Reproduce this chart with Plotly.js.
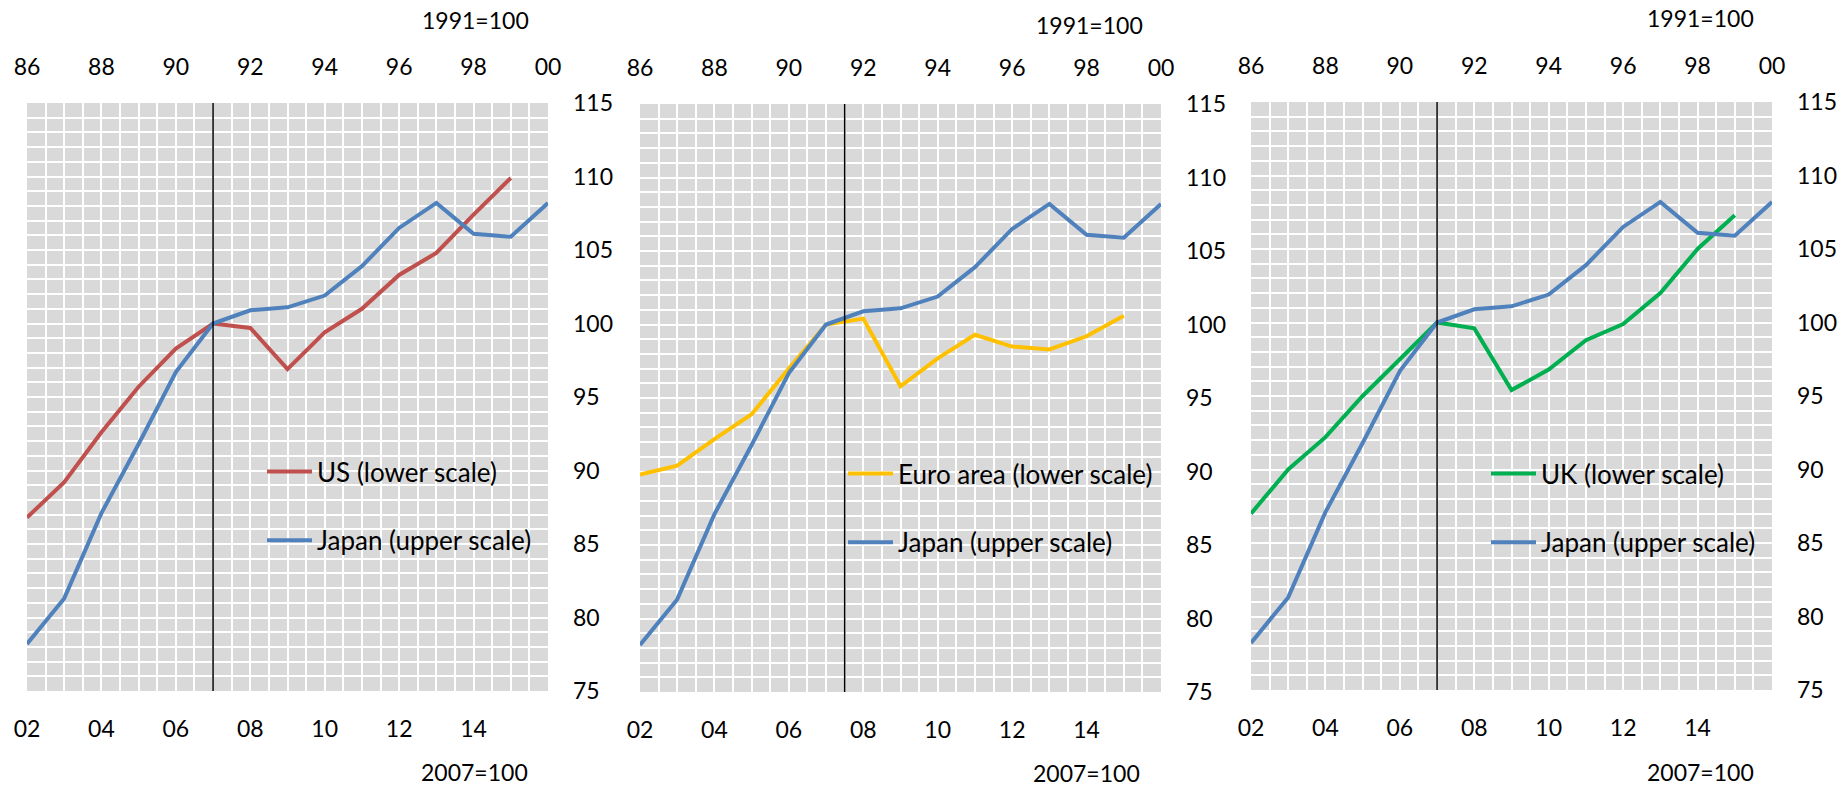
<!DOCTYPE html>
<html><head><meta charset="utf-8">
<script src="https://cdn.plot.ly/plotly-3.0.1.min.js"></script>
<style>html,body{margin:0;padding:0;background:#fff}#chart{width:1842px;height:787px}</style>
</head><body><div id="chart"></div>
<script>
// ---- data ----
const yearsLower = [2002,2003,2004,2005,2006,2007,2008,2009,2010,2011,2012,2013,2014,2015];
const yearsUpper = [1986,1987,1988,1989,1990,1991,1992,1993,1994,1995,1996,1997,1998,1999,2000];
const japan = [78.2,81.3,87.1,91.8,96.7,100.0,100.9,101.1,101.9,103.9,106.5,108.2,106.1,105.9,108.2];
const us    = [86.8,89.2,92.6,95.7,98.3,100.0,99.7,96.9,99.4,101.0,103.3,104.8,107.4,109.9];
const euro  = [89.8,90.4,92.2,93.9,97.0,100.0,100.4,95.8,97.7,99.3,98.5,98.3,99.2,100.6];
const uk    = [87.0,90.0,92.2,95.0,97.5,100.0,99.6,95.4,96.8,98.8,99.9,102.0,105.0,107.3];
const seriesNames = ['US (lower scale)','Euro area (lower scale)','UK (lower scale)'];
const japanName = 'Japan (upper scale)';
const refYears = [2007, 2007.5, 2007];
const lowerTickVals = [2002,2004,2006,2008,2010,2012,2014];
const lowerTickText = ['02','04','06','08','10','12','14'];
const upperTickVals = [1986,1988,1990,1992,1994,1996,1998,2000];
const upperTickText = ['86','88','90','92','94','96','98','00'];
const yTickVals = [75,80,85,90,95,100,105,110,115];
const lowerRange = [2002,2016];
const upperRange = [1986,2000];
const yRange = [75,115];
const baseNotes = ['1991=100','2007=100'];

// ---- layout helpers ----
const W = 1842, H = 787;
const FONT = 'Lato, sans-serif';
const px = v => v / W;
const py = v => 1 - v / H;
const lowerSeries = [us, euro, uk];
const colors = ['#C0504D', '#FFC000', '#00B050'];
const japanColor = '#4F81BD';
const panelX = [[27,548],[640,1161],[1251,1772]];
const panelY = [[103,691],[104,692],[102,690]];
const topNote = [[475,20],[1089,25],[1700,18]];
const botNote = [[474,772],[1086,773],[1700,772]];
const legPos = [[262,448],[843,450],[1486,450]];

const traces = [];
const layout = {
  width: W, height: H,
  margin: {l:0, r:0, t:0, b:0},
  paper_bgcolor: '#ffffff',
  plot_bgcolor: '#d9d9d9',
  font: {family: FONT, size: 23, color: '#000'},
  showlegend: true,
  shapes: [], annotations: []
};

for (let i = 0; i < 3; i++) {
  const s = i === 0 ? '' : String(i + 1);
  const st = String(i + 4);
  const legName = 'legend' + s;
  traces.push({
    x: yearsLower, y: lowerSeries[i], name: seriesNames[i],
    xaxis: 'x' + s, yaxis: 'y' + s, legend: legName, legendgroup: 'a' + i,
    mode: 'lines', line: {color: colors[i], width: 4}, hoverinfo: 'skip'
  });
  traces.push({
    x: yearsUpper, y: japan, name: japanName,
    xaxis: 'x' + st, yaxis: 'y' + s, legend: legName, legendgroup: 'b' + i,
    mode: 'lines', line: {color: japanColor, width: 4}, hoverinfo: 'skip'
  });
  layout['xaxis' + s] = {
    domain: [px(panelX[i][0]), px(panelX[i][1])], range: lowerRange,
    anchor: 'y' + s, side: 'bottom',
    tickmode: 'array', tickvals: lowerTickVals, ticktext: lowerTickText,
    ticks: '', ticklabelstandoff: 22, showline: false, zeroline: false,
    showgrid: true, gridcolor: '#ffffff', gridwidth: 2,
    minor: {tickmode: 'linear', tick0: 2002, dtick: 0.5, showgrid: true, gridcolor: '#ffffff', gridwidth: 2, ticks: ''},
    tickfont: {family: FONT, size: 23, color: '#000'}, fixedrange: true
  };
  layout['xaxis' + st] = {
    overlaying: 'x' + s, anchor: 'y' + s, side: 'top', range: upperRange,
    tickmode: 'array', tickvals: upperTickVals, ticktext: upperTickText,
    ticks: '', ticklabelstandoff: 22, showline: false, zeroline: false, showgrid: false,
    tickfont: {family: FONT, size: 23, color: '#000'}, fixedrange: true
  };
  layout['yaxis' + s] = {
    domain: [py(panelY[i][1]), py(panelY[i][0])], range: yRange,
    anchor: 'x' + s, side: 'right',
    tickmode: 'array', tickvals: yTickVals,
    ticks: '', ticklabelstandoff: 24, showline: false, zeroline: false,
    showgrid: true, gridcolor: '#ffffff', gridwidth: 2,
    minor: {tickmode: 'linear', tick0: 75, dtick: 1, showgrid: true, gridcolor: '#ffffff', gridwidth: 2, ticks: ''},
    tickfont: {family: FONT, size: 23, color: '#000'}, fixedrange: true
  };
  layout[legName] = {
    x: px(legPos[i][0]), y: py(legPos[i][1]), xanchor: 'left', yanchor: 'top',
    bgcolor: 'rgba(0,0,0,0)', borderwidth: 0,
    font: {family: FONT, size: 26, color: '#000'},
    itemwidth: 45, tracegroupgap: 32, traceorder: 'grouped'
  };
  layout.shapes.push({
    type: 'line', xref: 'x' + s, yref: 'paper',
    x0: refYears[i], x1: refYears[i], y0: py(panelY[i][1]), y1: py(panelY[i][0]),
    line: {color: '#000', width: 1.5}, layer: 'above'
  });
  layout.annotations.push({
    text: baseNotes[0], xref: 'paper', yref: 'paper',
    x: px(topNote[i][0]), y: py(topNote[i][1]), xanchor: 'center', yanchor: 'middle',
    showarrow: false, font: {family: FONT, size: 23, color: '#000'}
  });
  layout.annotations.push({
    text: baseNotes[1], xref: 'paper', yref: 'paper',
    x: px(botNote[i][0]), y: py(botNote[i][1]), xanchor: 'center', yanchor: 'middle',
    showarrow: false, font: {family: FONT, size: 23, color: '#000'}
  });
}

Plotly.newPlot('chart', traces, layout, {staticPlot: true, displayModeBar: false});
</script>
</body></html>
